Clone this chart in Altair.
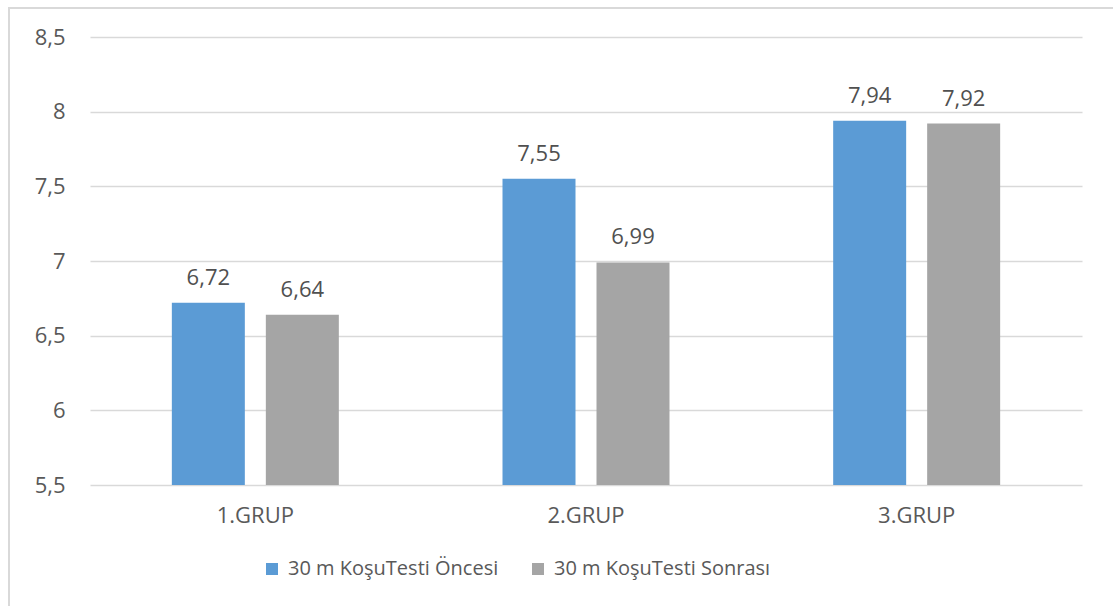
import altair as alt
import pandas as pd

groups = ["1.GRUP", "2.GRUP", "3.GRUP"]
series = ["30 m KoşuTesti Öncesi", "30 m KoşuTesti Sonrası"]
before = [6.72, 7.55, 7.94]
after = [6.64, 6.99, 7.92]
y_ticks = [5.5, 6, 6.5, 7, 7.5, 8, 8.5]
colors = ["#5B9BD5", "#A5A5A5"]

rows = []
for g, b, a in zip(groups, before, after):
    rows.append({"grup": g, "seri": series[0], "deger": b})
    rows.append({"grup": g, "seri": series[1], "deger": a})
df = pd.DataFrame(rows)

FONT = "Open Sans"
FS = 22          # axis and value labels
FS_LEG = 20      # legend labels
W, H = 992, 448

base = alt.Chart(df).encode(
    x=alt.X("grup:N", sort=groups,
            scale=alt.Scale(paddingInner=0.495, paddingOuter=0.2475),
            axis=alt.Axis(title=None, labelAngle=0, ticks=False, domain=False, grid=False,
                          labelFontSize=FS, labelColor="#595959", labelFont=FONT,
                          labelPadding=20)),
    xOffset=alt.XOffset("seri:N", sort=series,
                        scale=alt.Scale(paddingInner=0.2234, paddingOuter=0)),
)

bars = base.mark_bar(clip=True).encode(
    y=alt.Y("deger:Q",
            scale=alt.Scale(domain=[5.5, 8.5], zero=False, nice=False, clamp=True),
            axis=alt.Axis(title=None, values=y_ticks, ticks=False, domain=False,
                          labelExpr="replace(format(datum.value, '~g'), '.', ',')",
                          labelFontSize=FS, labelColor="#595959", labelFont=FONT,
                          labelPadding=25, gridColor="#D9D9D9", gridWidth=1.5)),
    y2=alt.datum(5.5),
    color=alt.Color("seri:N", sort=series,
                    scale=alt.Scale(domain=series, range=colors),
                    legend=alt.Legend(title=None, orient="none", direction="horizontal",
                                      legendX=172, legendY=522,
                                      symbolType="square", symbolSize=144,
                                      symbolStrokeWidth=0,
                                      labelFontSize=FS_LEG, labelColor="#595959",
                                      labelFont=FONT, columnPadding=29,
                                      labelOffset=6, labelLimit=400)),
)

labels = base.transform_calculate(
    etiket="replace(format(datum.deger, '.2f'), '.', ',')"
).mark_text(baseline="alphabetic", dy=-18, fontSize=FS, color="#505050", font=FONT).encode(
    y=alt.Y("deger:Q"),
    text="etiket:N",
)

frame = alt.Chart(pd.DataFrame({"k": [0]})).mark_rect(
    fill=None, stroke="#D9D9D9", strokeWidth=2
).encode(
    x=alt.value(-81), x2=alt.value(1060),
    y=alt.value(-29), y2=alt.value(620),
)

chart = alt.layer(frame, bars, labels).properties(
    width=W, height=H,
    background="white",
    autosize=alt.AutoSizeParams(type="none"),
    padding={"left": 90, "top": 37, "right": 31, "bottom": 121},
).configure_view(stroke=None)

chart.save("out.html", embed_options={"renderer": "svg", "actions": False})
